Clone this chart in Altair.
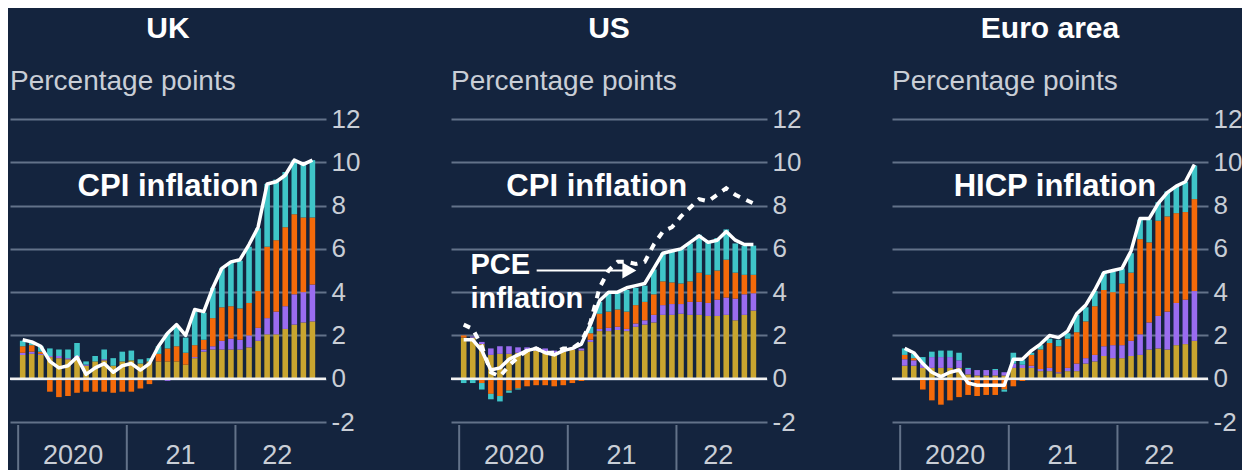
import altair as alt
import pandas as pd

# ---------------- data (Jan 2020 .. Sep 2022, monthly) ----------------
months = list(range(33))
COMPONENTS = ["c1", "c2", "c3", "c4"]
COLORS = ["#c9a52f", "#9a6cf0", "#f46a0a", "#3fc5c8"]

uk_gold = [1.1, 1.15, 1.1, 1.0, 0.95, 0.9, 1.0, 0.6, 0.8, 0.85, 0.6, 0.8, 0.85, 0.7, 0.8, 0.8, 0.8, 0.8, 0.65, 0.95, 1.25, 1.35, 1.35, 1.35, 1.35, 1.45, 1.75, 2.05, 2.05, 2.3, 2.5, 2.6, 2.65]
uk_purple = [0.1, 0.1, 0.05, 0.05, 0.1, 0.05, 0.05, 0.05, 0.0, 0.05, 0.0, 0.0, 0.0, 0.0, 0.0, 0.0, -0.1, 0.0, 0.0, 0.05, 0.1, 0.15, 0.4, 0.5, 0.45, 0.55, 0.6, 0.75, 1.05, 1.05, 1.4, 1.4, 1.7]
uk_orange = [0.3, 0.3, 0.1, -0.6, -0.85, -0.8, -0.65, -0.6, -0.6, -0.6, -0.65, -0.6, -0.6, -0.45, -0.25, 0.35, 0.6, 0.7, 0.55, 0.55, 0.45, 1.3, 1.55, 1.5, 1.45, 1.5, 1.7, 3.3, 3.3, 3.65, 3.7, 3.45, 3.1]
uk_cyan = [0.25, 0.1, 0.25, 0.35, 0.3, 0.4, 0.6, 0.15, 0.25, 0.45, 0.35, 0.45, 0.45, 0.2, 0.15, 0.35, 0.7, 0.9, 0.7, 1.55, 1.25, 1.4, 1.8, 2.05, 2.2, 2.6, 2.9, 2.9, 2.8, 2.55, 2.5, 2.5, 2.65]
uk_cpi = [1.8, 1.7, 1.5, 0.8, 0.5, 0.6, 1.0, 0.2, 0.5, 0.7, 0.3, 0.6, 0.7, 0.4, 0.7, 1.5, 2.1, 2.5, 2.0, 3.2, 3.1, 4.2, 5.1, 5.4, 5.5, 6.2, 7.0, 9.0, 9.1, 9.4, 10.1, 9.9, 10.1]

us_gold = [1.9, 1.9, 1.6, 1.1, 1.15, 1.15, 1.2, 1.3, 1.3, 1.25, 1.2, 1.25, 1.35, 1.3, 1.7, 2.2, 2.2, 2.25, 2.2, 2.4, 2.5, 2.6, 2.95, 2.95, 3.0, 2.95, 2.95, 2.9, 2.9, 2.95, 2.7, 2.95, 3.15]
us_purple = [0.0, 0.05, 0.1, 0.3, 0.35, 0.35, 0.25, 0.15, 0.15, 0.15, 0.1, 0.1, 0.1, 0.1, 0.1, 0.1, 0.15, 0.15, 0.1, 0.15, 0.2, 0.35, 0.45, 0.5, 0.45, 0.6, 0.6, 0.6, 0.75, 0.8, 1.0, 0.95, 0.8]
us_orange = [0.1, 0.0, -0.2, -0.7, -0.8, -0.55, -0.45, -0.35, -0.3, -0.3, -0.35, -0.3, -0.2, -0.1, 0.3, 0.7, 0.75, 0.8, 0.8, 0.85, 0.85, 0.95, 1.1, 1.0, 0.95, 0.95, 1.35, 1.3, 1.35, 1.75, 1.2, 0.9, 0.85]
us_cyan = [-0.2, -0.2, -0.3, -0.25, -0.25, -0.1, -0.05, 0.0, 0.0, 0.0, 0.0, 0.0, 0.0, 0.0, 0.3, 0.55, 0.9, 0.85, 1.0, 0.8, 0.75, 1.15, 1.3, 1.45, 1.6, 1.75, 1.75, 1.55, 1.5, 1.4, 1.35, 1.35, 1.35]
us_pce = [1.8, 1.8, 1.3, 0.4, 0.5, 0.9, 1.1, 1.3, 1.4, 1.2, 1.1, 1.3, 1.4, 1.6, 2.5, 3.6, 4.0, 4.0, 4.2, 4.3, 4.4, 5.1, 5.8, 5.9, 6.0, 6.3, 6.6, 6.3, 6.4, 6.8, 6.4, 6.2, 6.2]
us_cpi = [2.5, 2.3, 1.5, 0.3, 0.1, 0.6, 1.0, 1.3, 1.4, 1.2, 1.2, 1.4, 1.4, 1.7, 2.6, 4.2, 5.0, 5.4, 5.4, 5.3, 5.4, 6.2, 6.8, 7.0, 7.5, 7.9, 8.3, 8.2, 8.5, 8.8, 8.5, 8.3, 8.1]

ea_gold = [0.6, 0.6, 0.5, 0.5, 0.5, 0.5, 0.5, 0.2, 0.15, 0.15, 0.15, 0.15, 0.5, 0.5, 0.5, 0.35, 0.35, 0.25, 0.35, 0.35, 0.7, 0.8, 1.05, 0.95, 0.95, 1.05, 1.1, 1.35, 1.4, 1.35, 1.55, 1.6, 1.75]
ea_purple = [0.3, 0.25, 0.2, 0.5, 0.5, 0.5, 0.35, 0.25, 0.25, 0.25, 0.25, 0.15, 0.2, 0.15, 0.1, 0.1, 0.15, 0.05, 0.15, 0.35, 0.25, 0.3, 0.45, 0.6, 0.6, 0.7, 0.95, 1.25, 1.5, 1.75, 1.95, 2.05, 2.3]
ea_orange = [0.2, 0.1, -0.5, -1.0, -1.2, -1.0, -0.85, -0.75, -0.8, -0.75, -0.75, -0.5, -0.35, -0.1, 0.5, 0.9, 1.15, 1.2, 1.35, 1.45, 1.7, 2.25, 2.6, 2.45, 2.85, 3.15, 4.4, 3.7, 4.4, 4.4, 4.15, 4.05, 4.25]
ea_cyan = [0.3, 0.2, 0.3, 0.25, 0.3, 0.3, 0.35, 0.05, 0.0, 0.0, 0.05, -0.1, 0.5, 0.2, 0.1, 0.2, 0.2, 0.3, 0.25, 0.8, 0.65, 0.7, 0.8, 0.95, 0.7, 0.9, 0.9, 1.05, 0.85, 1.15, 1.25, 1.4, 1.55]
ea_hicp = [1.4, 1.2, 0.7, 0.3, 0.1, 0.3, 0.4, -0.2, -0.3, -0.3, -0.3, -0.3, 0.9, 0.9, 1.3, 1.6, 2.0, 1.9, 2.2, 3.0, 3.4, 4.1, 4.9, 5.0, 5.1, 5.9, 7.4, 7.4, 8.1, 8.6, 8.9, 9.1, 9.9]

TITLES = ["UK", "US", "Euro area"]
SUBTITLE = "Percentage points"
Y_TICKS = [-2, 0, 2, 4, 6, 8, 10, 12]
YEAR_LABELS = ["2020", "21", "22"]
YEAR_LABEL_POS = [5.57, 17.44, 28.13]
YEAR_BOUNDS = [-0.5, 11.5, 23.5]
MAIN_LABELS = ["CPI inflation", "CPI inflation", "HICP inflation"]
MAIN_LABEL_X = [16.05, 14.7, 16.6]
MAIN_LABEL_Y = 8.42
PCE_LABEL_LINES = ["PCE", "inflation"]
PCE_LABEL_X = 0.75
PCE_LABEL_Y = [4.84, 3.27]
ARROW_X = [8.06, 17.6]
ARROW_Y = [5.0, 5.0]
ARROW_HEAD_X = [18.3]

# ---------------- style ----------------
BG = "#14243e"
GRID = "#637289"
LABEL = "#c9ced6"
FONT = "Liberation Sans"
W, H = 316, 303
XS = alt.Scale(domain=[-0.85, 32.95], nice=False, zero=False)
YS = alt.Scale(domain=[-2, 12], nice=False, zero=False)


def bars_df(g, p, o, c):
    rows = []
    for i in months:
        for k, arr in enumerate([g, p, o, c]):
            rows.append({"m": i, "comp": COMPONENTS[k], "ord": k, "v": arr[i]})
    return pd.DataFrame(rows)


def line_df(vals):
    return pd.DataFrame({"m": months, "v": vals})


def panel(idx, comps, solid, dashed=None, extra=None):
    bars = alt.Chart(bars_df(*comps)).mark_bar(size=5.6).encode(
        x=alt.X("m:Q", scale=XS, axis=None),
        y=alt.Y("sum(v):Q", scale=YS, stack="zero",
                axis=alt.Axis(orient="right", values=Y_TICKS, grid=True,
                              gridColor=GRID, gridWidth=2, domain=False, ticks=False,
                              labelFontSize=26, labelColor=LABEL, labelFont=FONT,
                              labelPadding=5, title=None, labelBaseline="middle",
                              labelExpr="'' + datum.value")),
        color=alt.Color("comp:N", scale=alt.Scale(domain=COMPONENTS, range=COLORS), legend=None),
        order=alt.Order("ord:Q"),
    )
    zero = alt.Chart(pd.DataFrame({"v": [0]})).mark_rule(color="#f2f2f2", strokeWidth=2.5).encode(
        y=alt.Y("v:Q", scale=YS), x=alt.value(0), x2=alt.value(W))
    layers = [bars, zero]
    if dashed is not None:
        layers.append(alt.Chart(line_df(dashed)).mark_line(
            color="white", strokeWidth=4, strokeDash=[7, 7]).encode(
            x=alt.X("m:Q", scale=XS), y=alt.Y("v:Q", scale=YS)))
    layers.append(alt.Chart(line_df(solid)).mark_line(
        color="white", strokeWidth=3.5, strokeJoin="round").encode(
        x=alt.X("m:Q", scale=XS), y=alt.Y("v:Q", scale=YS)))
    # main annotation
    layers.append(alt.Chart(pd.DataFrame({"x": [MAIN_LABEL_X[idx]], "y": [MAIN_LABEL_Y],
                                          "t": [MAIN_LABELS[idx]]})).mark_text(
        font=FONT, fontSize=31, fontWeight="bold", color="white", align="center",
        baseline="alphabetic").encode(
        x=alt.X("x:Q", scale=XS), y=alt.Y("y:Q", scale=YS), text="t:N"))
    if extra is not None:
        layers.extend(extra)
    # year separators and labels
    layers.append(alt.Chart(pd.DataFrame({"x": YEAR_BOUNDS})).mark_rule(
        color=GRID, strokeWidth=2).encode(
        x=alt.X("x:Q", scale=XS), y=alt.value(H + 3), y2=alt.value(H + 70)))
    layers.append(alt.Chart(pd.DataFrame({"x": YEAR_LABEL_POS, "t": YEAR_LABELS})).mark_text(
        font=FONT, fontSize=27, color=LABEL, align="center", baseline="alphabetic").encode(
        x=alt.X("x:Q", scale=XS), y=alt.value(H + 42), text="t:N"))
    # titles
    layers.append(alt.Chart(pd.DataFrame({"t": [TITLES[idx]]})).mark_text(
        font=FONT, fontSize=30, fontWeight="bold", color="white", align="center",
        baseline="alphabetic").encode(x=alt.value(W / 2), y=alt.value(-81), text="t:N"))
    layers.append(alt.Chart(pd.DataFrame({"t": [SUBTITLE]})).mark_text(
        font=FONT, fontSize=28, color=LABEL, align="left",
        baseline="alphabetic").encode(x=alt.value(0), y=alt.value(-29), text="t:N"))
    return alt.layer(*layers).properties(width=W, height=H)


pce_extra = [
    alt.Chart(pd.DataFrame({"x": [PCE_LABEL_X] * 2, "y": PCE_LABEL_Y, "t": PCE_LABEL_LINES})).mark_text(
        font=FONT, fontSize=29, fontWeight="bold", color="white", align="left",
        baseline="alphabetic").encode(
        x=alt.X("x:Q", scale=XS), y=alt.Y("y:Q", scale=YS), text="t:N"),
    alt.Chart(pd.DataFrame({"x": ARROW_X, "y": ARROW_Y})).mark_line(
        color="white", strokeWidth=2).encode(
        x=alt.X("x:Q", scale=XS), y=alt.Y("y:Q", scale=YS)),
    alt.Chart(pd.DataFrame({"x": ARROW_HEAD_X, "y": [ARROW_Y[0]]})).mark_point(
        shape="triangle-right", size=260, filled=True, color="white", opacity=1).encode(
        x=alt.X("x:Q", scale=XS), y=alt.Y("y:Q", scale=YS)),
]

uk = panel(0, (uk_gold, uk_purple, uk_orange, uk_cyan), uk_cpi)
us = panel(1, (us_gold, us_purple, us_orange, us_cyan), us_pce, dashed=us_cpi, extra=pce_extra)
ea = panel(2, (ea_gold, ea_purple, ea_orange, ea_cyan), ea_hicp)

chart = alt.hconcat(uk, us, ea, spacing=125, bounds="flush").configure(
    background=BG,
    padding={"left": 0, "top": 6, "right": 0, "bottom": 0},
    font=FONT,
).configure_view(stroke=None)

chart.save("out.html", embed_options={"renderer": "svg", "actions": False})
